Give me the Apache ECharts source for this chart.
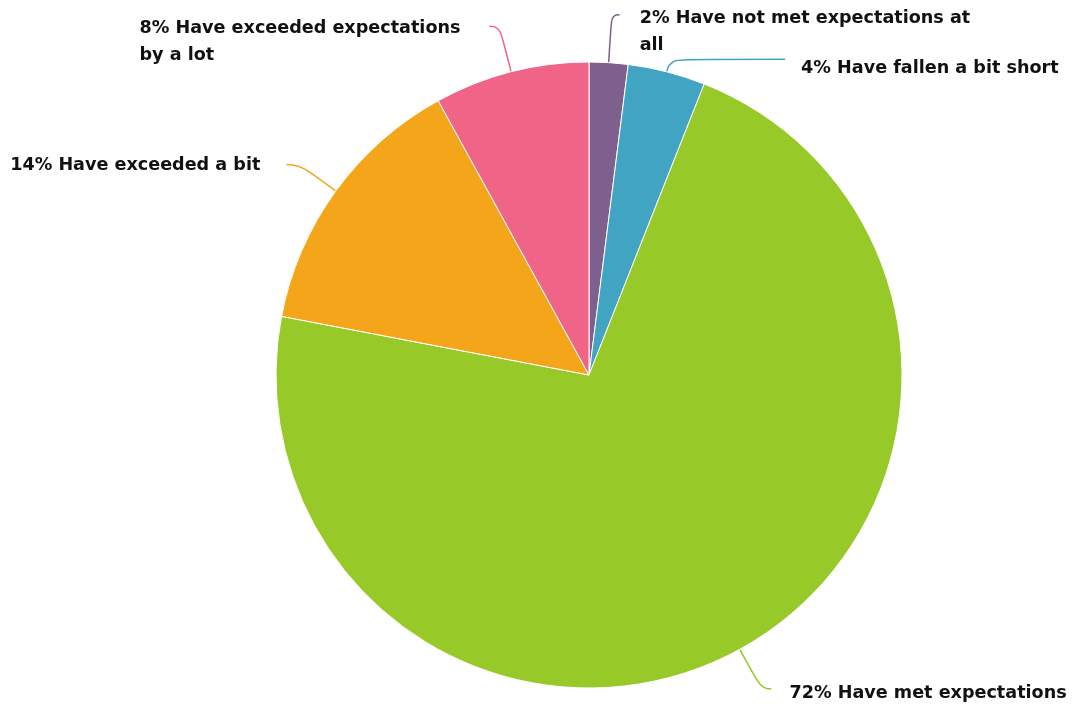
<!DOCTYPE html>
<html>
<head>
<meta charset="utf-8">
<script src="https://cdn.jsdelivr.net/npm/echarts@6/dist/echarts.min.js"></script>
<style>
  html, body { margin: 0; padding: 0; background: #ffffff; }
  #chart { width: 1072px; height: 710px; }
</style>
</head>
<body>
<div id="chart"></div>
<script>
// Survey answers, clockwise from twelve o'clock
const categories = [
  'Have not met expectations at\nall',
  'Have fallen a bit short',
  'Have met expectations',
  'Have exceeded a bit',
  'Have exceeded expectations\nby a lot'
];
const shares = [2, 4, 72, 14, 8];
const sliceColors = ['#7e5f8e', '#41a4c3', '#97c928', '#f5a51a', '#f06488'];

// Leader line and label tuning for each slice
const leaderStyles = [
  { length: 48, length2: 8,   gap: 20, padTop: 34 },
  { length: 13, length2: 115, gap: 16, padTop: 18 },
  { length: 45, length2: 10,  gap: 18, padTop: 10 },
  { length: 45, length2: 13,  gap: 26, padTop: 2 },
  { length: 47, length2: 10,  gap: 29, padTop: 32 }
];

const chart = echarts.init(document.getElementById('chart'), null, { renderer: 'canvas' });

const pieData = categories.map((name, i) => {
  const s = leaderStyles[i];
  return {
    name: name,
    value: shares[i],
    itemStyle: { color: sliceColors[i] },
    label: {
      distanceToLabelLine: s.gap,
      padding: [s.padTop, 0, 0, 0]
    },
    labelLine: {
      length: s.length,
      length2: s.length2,
      lineStyle: { color: sliceColors[i] }
    }
  };
});

chart.setOption({
  backgroundColor: '#ffffff',
  animation: false,
  series: [{
    type: 'pie',
    center: [589, 375],
    radius: 313,
    startAngle: 90,
    clockwise: true,
    avoidLabelOverlap: false,
    itemStyle: { borderColor: '#ffffff', borderWidth: 1 },
    label: {
      show: true,
      position: 'outside',
      formatter: '{t|{c}% {b}}',
      rich: {
        t: {
          fontFamily: '"DejaVu Sans", sans-serif',
          fontWeight: 'bold',
          fontSize: 17.6,
          lineHeight: 27,
          color: '#111111',
          align: 'left'
        }
      }
    },
    labelLine: {
      show: true,
      smooth: 0.5,
      lineStyle: { width: 1.5 }
    },
    emphasis: { disabled: true },
    data: pieData
  }]
});
</script>
</body>
</html>
